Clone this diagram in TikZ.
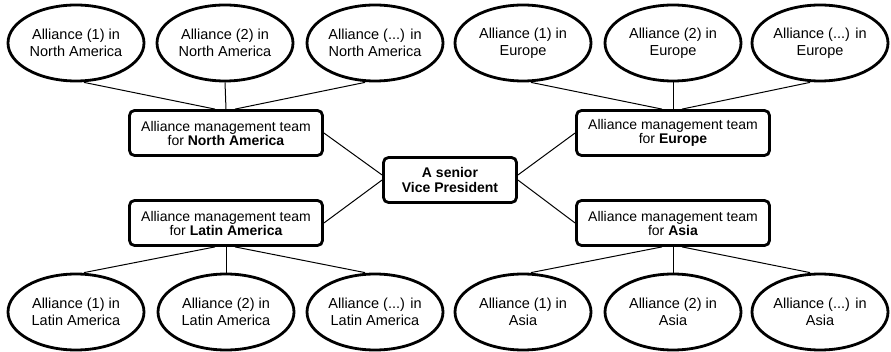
\documentclass[tikz,border=0pt]{standalone}
\usepackage{fontspec}
\setmainfont{Liberation Sans}
\usetikzlibrary{shapes.geometric,backgrounds}
\begin{document}
\begin{tikzpicture}[x=1pt,y=-1pt,
  alliance/.style={ellipse, draw, fill=white, line width=2.8pt,
    minimum width=136pt, minimum height=76pt, inner sep=0pt, align=center,
    font=\fontsize{14.5}{17}\selectfont},
  team/.style={rectangle, rounded corners=5pt, draw, fill=white, line width=2.8pt,
    minimum width=193pt, minimum height=45pt, inner sep=0pt, align=center,
    font=\fontsize{14}{14}\selectfont},
  link/.style={line width=1pt}]
\useasboundingbox (0,0) rectangle (891,352);

% senior vice president in the middle
\node[team, minimum width=133pt, font=\fontsize{14}{15}\selectfont] (vp) at (450,180)
  {\textbf{A senior}\\\textbf{Vice President}};

% regional alliance management teams
\node[team] (na) at (226,133) {Alliance management team\\for \textbf{North America}};
\node[team] (eu) at (673,133) {Alliance management team\\for \textbf{Europe}};
\node[team] (la) at (226,223) {Alliance management team\\for \textbf{Latin America}};
\node[team] (as) at (673,223) {Alliance management team\\for \textbf{Asia}};

% individual alliances, top row
\node[alliance] (na1) at (76,43)  {Alliance (1) in\\North America};
\node[alliance] (na2) at (225,43) {Alliance (2) in\\North America};
\node[alliance] (na3) at (375,43) {Alliance (...) in\\North America};
\node[alliance] (eu1) at (523,43) {Alliance (1) in\\Europe};
\node[alliance] (eu2) at (673,43) {Alliance (2) in\\Europe};
\node[alliance] (eu3) at (820,43) {Alliance (...) in\\Europe};

% individual alliances, bottom row
\node[alliance] (la1) at (76,312)  {Alliance (1) in\\Latin America};
\node[alliance] (la2) at (226,312) {Alliance (2) in\\Latin America};
\node[alliance] (la3) at (375,312) {Alliance (...) in\\Latin America};
\node[alliance] (as1) at (523,312) {Alliance (1) in\\Asia};
\node[alliance] (as2) at (673,312) {Alliance (2) in\\Asia};
\node[alliance] (as3) at (820,312) {Alliance (...) in\\Asia};

\begin{scope}[on background layer]
  % teams to the vice president
  \draw[link] (na.east) -- ([yshift=5pt]vp.west);
  \draw[link] (la.east) -- (vp.west);
  \draw[link] (eu.west) -- ([yshift=5pt]vp.east);
  \draw[link] (as.west) -- (vp.east);
  % alliances to their team
  \foreach \t in {na,eu}{
    \draw[link] ([xshift=8pt]\t1.south) -- ([xshift=-11pt]\t.north);
    \draw[link] (\t2.south) -- (\t.north);
    \draw[link] ([xshift=-10pt]\t3.south) -- ([xshift=9pt]\t.north);
  }
  \foreach \t in {la,as}{
    \draw[link] ([xshift=8pt]\t1.north) -- ([xshift=-11pt]\t.south);
    \draw[link] (\t2.north) -- (\t.south);
    \draw[link] ([xshift=-10pt]\t3.north) -- ([xshift=9pt]\t.south);
  }
\end{scope}
\end{tikzpicture}
\end{document}
